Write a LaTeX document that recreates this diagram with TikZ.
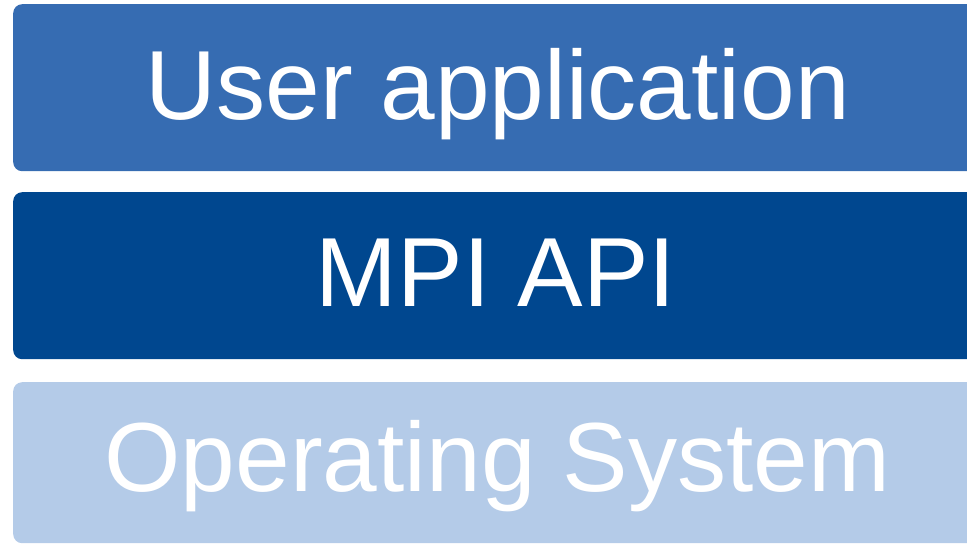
\documentclass[tikz,border=0pt]{standalone}
\usepackage{fontspec}
\setmainfont{Liberation Sans}
\definecolor{appblue}{RGB}{54,108,178}
\definecolor{apiblue}{RGB}{0,71,143}
\definecolor{osblue}{RGB}{180,203,232}
\begin{document}
\begin{tikzpicture}[x=1pt,y=-1pt,
  layer/.style={rectangle, rounded corners=9pt, anchor=north west,
    minimum width=968pt, minimum height=#1, inner sep=0pt},
  caption/.style={anchor=base, inner sep=0pt, text=white,
    font=\fontsize{98.2}{100}\selectfont}]
  \useasboundingbox (0,0) rectangle (967,544);
  \clip (0,0) rectangle (967,544);
  % the three stacked layers
  \node[layer=167pt, fill=appblue] (app) at (13,4) {};
  \node[layer=167pt, fill=apiblue] (api) at (13,192) {};
  \node[layer=161pt, fill=osblue] (os) at (13,382) {};
  % layer captions, placed on their baselines
  \node[caption] (apptext) at (498,119) {User application};
  \node[caption] (apitext) at (496,306) {MPI API};
  \node[caption] (ostext) at (497.5,491) {Operating System};
\end{tikzpicture}
\end{document}
